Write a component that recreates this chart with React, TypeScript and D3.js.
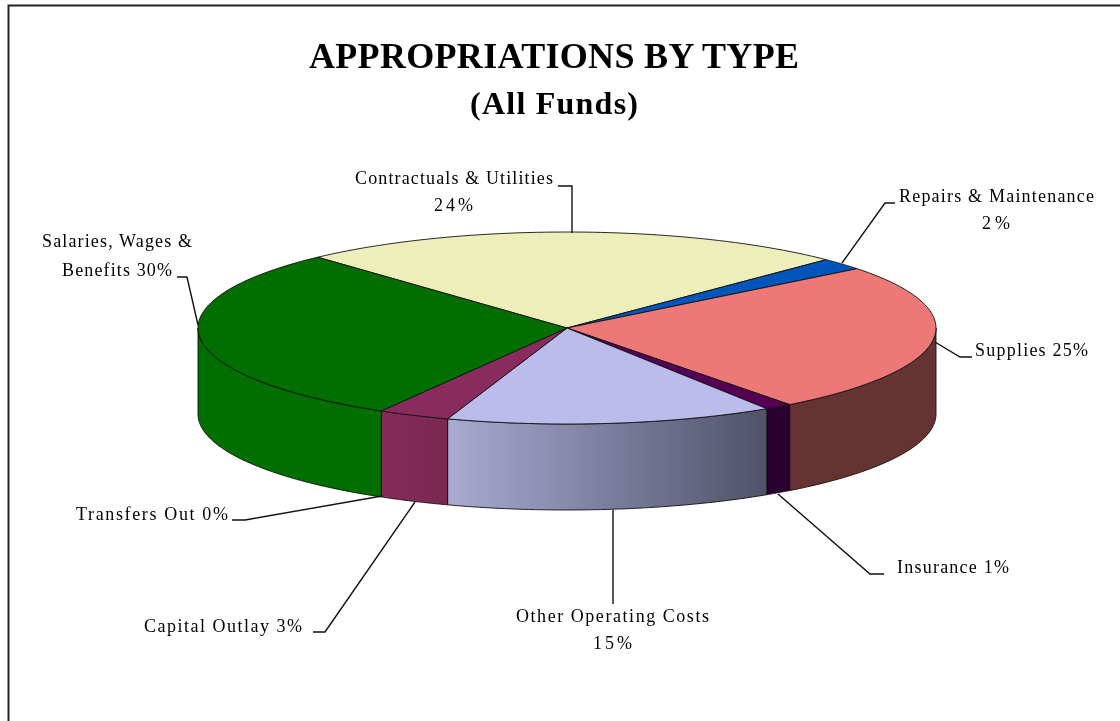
import React from "react";
import * as d3 from "d3";

const categories = ["Contractuals & Utilities", "Repairs & Maintenance", "Supplies", "Insurance", "Other Operating Costs", "Capital Outlay", "Transfers Out", "Salaries, Wages & Benefits"];
const shares = [24.2, 2, 25.3, 1.2, 14.35, 3.15, 0, 29.8];
const topColors = ["#eeeebb", "#0055bb", "#ee7777", "#550055", "#bbbbec", "#8a2b5f", "#3b3b8c", "#006f00"];
const wallLeft = ["#eeeebb", "#0055bb", "#663333", "#2a0030", "#aaaad2", "#852b58", "#3b3b8c", "#006f00"];
const wallRight = ["#eeeebb", "#0055bb", "#663333", "#2a0030", "#50526a", "#7a2850", "#3b3b8c", "#006f00"];

const labelLines = [
  { text: "Contractuals & Utilities", x1: 355, x2: 553, y: 184 },
  { text: "24%", x1: 434, x2: 473, y: 211 },
  { text: "Repairs & Maintenance", x1: 899, x2: 1094, y: 202 },
  { text: "2%", x1: 982, x2: 1010, y: 229 },
  { text: "Supplies 25%", x1: 975, x2: 1088, y: 356 },
  { text: "Insurance 1%", x1: 897, x2: 1009, y: 573 },
  { text: "Other Operating Costs", x1: 516, x2: 709, y: 622 },
  { text: "15%", x1: 593, x2: 632, y: 649 },
  { text: "Capital Outlay 3%", x1: 144, x2: 302, y: 632 },
  { text: "Transfers Out 0%", x1: 76, x2: 228, y: 520 },
  { text: "Salaries, Wages &", x1: 42, x2: 192, y: 247 },
  { text: "Benefits 30%", x1: 62, x2: 172, y: 276 },
];

const leaders: [number, number][][] = [
  [[572, 233], [572, 186], [558, 186]],
  [[842, 263], [885, 203], [895, 203]],
  [[935, 342], [960, 357], [972, 357]],
  [[778, 494], [870, 574], [884, 574]],
  [[613, 510], [613, 604]],
  [[415, 502], [325, 632], [313, 632]],
  [[382, 496], [245, 520], [232, 520]],
  [[198, 325], [187, 277], [177, 277]],
];

const cx = 567, cy = 328, rx = 369, ry = 96, depth = 86;
const startDeg = -42.5;
const font = "'Liberation Serif', 'Times New Roman', serif";

export default function App() {
  const slices = d3
    .pie<number>()
    .sort(null)
    .startAngle((startDeg * Math.PI) / 180)
    .endAngle((startDeg * Math.PI) / 180 + 2 * Math.PI)(shares);

  const px = d3.scaleLinear().domain([-1, 1]).range([cx - rx, cx + rx]);
  const py = d3.scaleLinear().domain([-1, 1]).range([cy - ry, cy + ry]);
  const pt = (a: number, dy = 0): [number, number] => [px(Math.sin(a)), py(-Math.cos(a)) + dy];
  const line = d3.line();
  const rim = (a0: number, a1: number, dy = 0) =>
    d3.range(0, 61).map((i) => pt(a0 + ((a1 - a0) * i) / 60, dy));

  const walls = slices
    .map((s, i) => {
      const a0 = Math.max(s.startAngle, Math.PI / 2);
      const a1 = Math.min(s.endAngle, (3 * Math.PI) / 2);
      return { i, a0, a1 };
    })
    .filter((w) => w.a1 > w.a0 && shares[w.i] > 0);

  return (
    <svg
      width={1120}
      height={721}
      style={{ position: "absolute", left: 0, top: 0, background: "#fff" }}
    >
      <defs>
        {walls.map((w) => {
          const a = pt(w.a0)[0];
          const b = pt(w.a1)[0];
          return (
            <linearGradient key={w.i} id={`wall${w.i}`} gradientUnits="userSpaceOnUse" x1={Math.min(a, b)} x2={Math.max(a, b)} y1={0} y2={0}>
              <stop offset="0%" stopColor={wallLeft[w.i]} />
              <stop offset="100%" stopColor={wallRight[w.i]} />
            </linearGradient>
          );
        })}
      </defs>
      <g style={{ filter: "blur(0.45px)" }}>
        <path d="M1120,5.5H8.5V721" fill="none" stroke="#222" strokeWidth={2} />

        {walls.map((w) => {
          const top = rim(w.a0, w.a1);
          const bottom = rim(w.a1, w.a0, depth);
          return (
            <path
              key={w.i}
              d={line([...top, ...bottom])! + "Z"}
              fill={`url(#wall${w.i})`}
              stroke="#111"
              strokeWidth={0.9}
            />
          );
        })}

        {slices.map((s, i) =>
          shares[i] > 0 ? (
            <path
              key={categories[i]}
              d={line([[cx, cy], ...rim(s.startAngle, s.endAngle)])! + "Z"}
              fill={topColors[i]}
              stroke="#111"
              strokeWidth={0.9}
              strokeLinejoin="round"
            />
          ) : null
        )}

        {leaders.map((l, i) => (
          <path key={i} d={line(l)!} fill="none" stroke="#111" strokeWidth={1.4} />
        ))}

        <text x={554} y={68} textAnchor="middle" fontFamily={font} fontWeight="bold" fontSize={36} textLength={490} lengthAdjust="spacing" fill="#000">
          APPROPRIATIONS BY TYPE
        </text>
        <text x={554} y={114} textAnchor="middle" fontFamily={font} fontWeight="bold" fontSize={32} textLength={168} lengthAdjust="spacing" fill="#000">
          (All Funds)
        </text>

        {labelLines.map((l, i) => (
          <text
            key={i}
            x={l.x1}
            y={l.y}
            fontFamily={font}
            fontSize={18}
            textLength={l.x2 - l.x1}
            lengthAdjust="spacing"
            fill="#000"
          >
            {l.text}
          </text>
        ))}
      </g>
    </svg>
  );
}
